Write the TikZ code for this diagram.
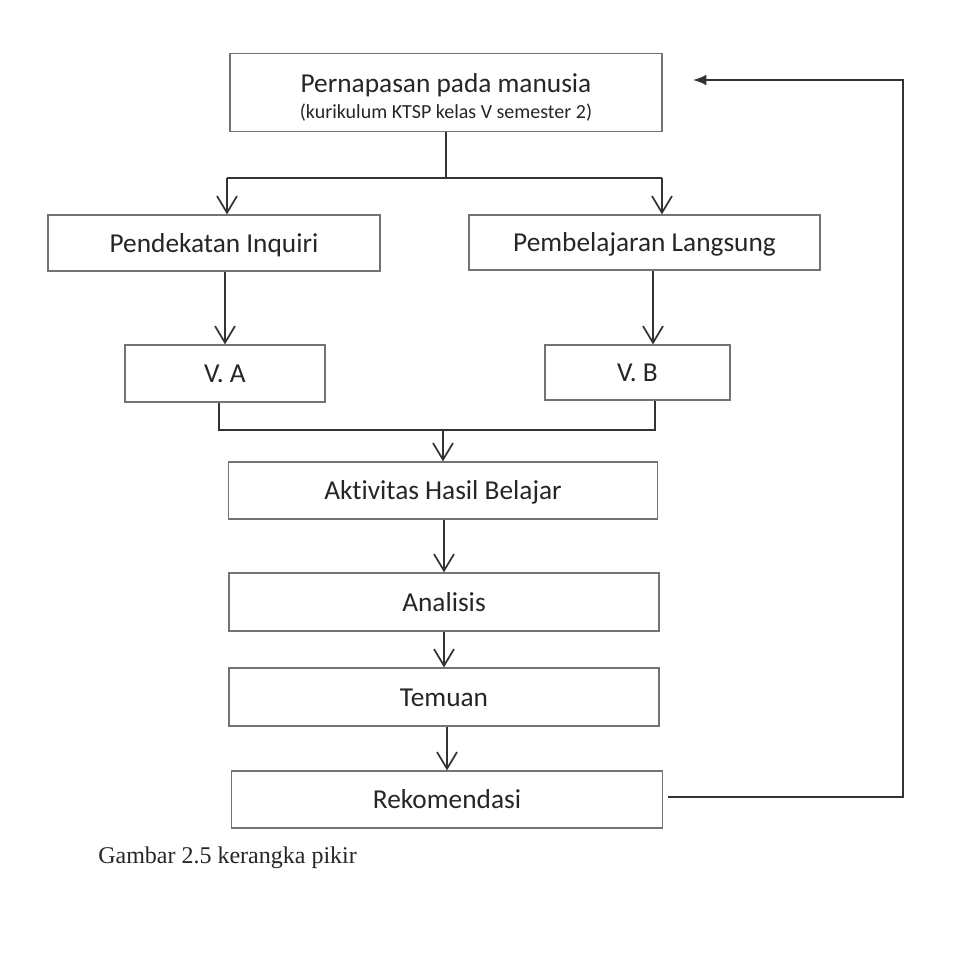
\documentclass[tikz,border=0pt]{standalone}
\usepackage{fontspec}
\setmainfont{Carlito}[Ligatures=NoCommon]
\newfontfamily\capfont{Liberation Serif}
\usetikzlibrary{arrows.meta}

\begin{document}
\begin{tikzpicture}[x=0.75pt,y=0.75pt,yscale=-1,xscale=1,
  box/.style={draw=black!55, line width=0.9pt, text=black!85, font=\fontsize{20.5}{24}\selectfont, inner sep=0pt},
  boxline/.style={box, text height=15pt, text depth=1.5pt},
  conn/.style={draw=black!80, line width=1.3pt},
  arr/.style={conn, -{Straight Barb[length=12.5pt,width=15pt,line width=1.3pt]}},
  back/.style={conn, -{Latex[length=10pt,width=8pt]}}]

\useasboundingbox [fill=white] (0, 0) rectangle (960, 961);

%%%%%%%%%%%%%%%%%%%%%%%%%%%%%%%%%%%%%%%%%%%%%%%%%%%%%%%%%%%%%%%%%%%%%%%%

\node [box, minimum width=324pt, minimum height=58.5pt] (top) at (446, 92.5)
  {\raisebox{-5pt}[\height][\depth]{\begin{tabular}{@{}c@{}}Pernapasan pada manusia\\[-4pt]%
   {\fontsize{15}{18}\selectfont (kurikulum KTSP kelas V semester 2)}\end{tabular}}};

\node [boxline, minimum width=249pt, minimum height=42pt] (inq) at (214, 243) {Pendekatan Inquiri};
\node [boxline, minimum width=263.25pt, minimum height=41.25pt] (lang) at (644.5, 242.5) {Pembelajaran Langsung};

\node [boxline, minimum width=150pt, minimum height=42.75pt] (va) at (225, 373.5) {V. A};
\node [boxline, minimum width=138.75pt, minimum height=41.25pt] (vb) at (637.5, 372.5) {V. B};

\node [boxline, minimum width=321.75pt, minimum height=42.75pt] (akt) at (443, 490.5) {Aktivitas Hasil Belajar};
\node [boxline, minimum width=322.5pt, minimum height=43.5pt] (ana) at (444, 602) {Analisis};
\node [boxline, minimum width=322.5pt, minimum height=43.5pt] (tem) at (444, 697) {Temuan};
\node [boxline, minimum width=323.25pt, minimum height=42.75pt] (rek) at (447, 799.5) {Rekomendasi};

\node [anchor=base west, font=\capfont\fontsize{18}{21}\selectfont, text=black!85, inner sep=0pt] (cap) at (98, 863)
  {Gambar 2.5 kerangka pikir};

%%%%%%%%%%%%%%%%%%%%%%%%%%%%%%%%%%%%%%%%%%%%%%%%%%%%%%%%%%%%%%%%%%%%%%%%

\coordinate (splitL) at (227, 178);
\coordinate (splitR) at (662, 178);
\draw [conn] (top.south) -- (top.south |- splitL);
\draw [conn] (splitL) -- (splitR);
\draw [arr] (splitL) -- (splitL |- inq.north);
\draw [arr] (splitR) -- (splitR |- lang.north);

\draw [arr] (va.north |- inq.south) -- (va.north);
\coordinate (downB) at (653, 300);
\draw [arr] (downB |- lang.south) -- (downB |- vb.north);

\coordinate (joinL) at (219, 430);
\coordinate (joinR) at (655, 430);
\draw [conn] (joinL |- va.south) -- (joinL) -- (joinR) -- (joinR |- vb.south);
\draw [arr] (akt.north |- joinL) -- (akt.north);

\draw [arr] (akt.south -| ana.north) -- (ana.north);
\draw [arr] (ana.south -| tem.north) -- (tem.north);
\draw [arr] (tem.south -| rek.north) -- (rek.north);

%%%%%%%%%%%%%%%%%%%%%%%%%%%%%%%%%%%%%%%%%%%%%%%%%%%%%%%%%%%%%%%%%%%%%%%%

\coordinate (backB) at (903, 797);
\coordinate (backT) at (903, 80);
\coordinate (backTip) at (693, 80);
\draw [back, shorten <=4pt] (rek.east |- backB) -- (backB) -- (backT) -- (backTip);

%%%%%%%%%%%%%%%%%%%%%%%%%%%%%%%%%%%%%%%%%%%%%%%%%%%%%%%%%%%%%%%%%%%%%%%%

\end{tikzpicture}
\end{document}
